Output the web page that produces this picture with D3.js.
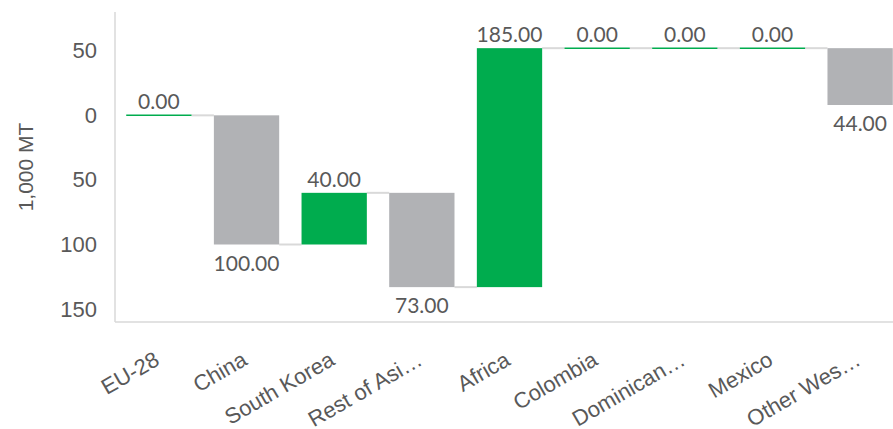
<!DOCTYPE html>
<html>
<head>
<meta charset="utf-8">
<script src="https://cdn.jsdelivr.net/npm/d3@7"></script>
<style>
  body { margin: 0; background: #fff; }
  svg { display: block; }
</style>
</head>
<body>
<div id="chart"></div>
<script>
// chart data
var categories = ["EU-28", "China", "South Korea", "Rest of Asi\u2026", "Africa",
                  "Colombia", "Dominican\u2026", "Mexico", "Other Wes\u2026"];
var changes = [0, -100, 40, -73, 185, 0, 0, 0, -44];
var y_ticks = [50, 0, -50, -100, -150];
var y_title = "1,000 MT";

var draw_chart = function() {
  var width = 893;
  var height = 429;
  var plot_left = 115;
  var plot_right = 904;
  var plot_top = 12;
  var plot_bottom = 322;

  var green = "#00ac4e";
  var grey = "#b1b2b5";
  var light = "#d9d9d9";
  var text_color = "#595959";

  // running totals for the waterfall
  var steps = [];
  var level = 0;
  for (var i = 0; i < changes.length; i++) {
    var start = level;
    level += changes[i];
    steps.push({ name: categories[i], value: changes[i], start: start, end: level });
  }

  var x = d3.scaleBand()
      .domain(categories)
      .range([plot_left, plot_right])
      .paddingInner(0.255)
      .paddingOuter(0.128);

  var y = d3.scaleLinear()
      .domain([-160, 80])
      .range([plot_bottom, plot_top]);

  var svg = d3.select("#chart").append("svg")
      .attr("width", width)
      .attr("height", height);

  // axes
  var y_axis = d3.axisLeft(y)
      .tickValues(y_ticks)
      .tickSize(0)
      .tickPadding(18)
      .tickFormat(function(d) { return Math.abs(d); });

  var gy = svg.append("g")
      .attr("transform", "translate(" + plot_left + ",0)")
      .call(y_axis);
  gy.select(".domain").remove();
  gy.selectAll("text")
      .attr("fill", text_color)
      .style("font-family", "'Liberation Sans', Arial, sans-serif")
      .style("font-size", "22px");

  svg.append("line")
      .attr("x1", plot_left).attr("x2", plot_left)
      .attr("y1", plot_top).attr("y2", plot_bottom)
      .attr("stroke", light).attr("stroke-width", 1.5);

  svg.append("line")
      .attr("x1", plot_left).attr("x2", width)
      .attr("y1", plot_bottom).attr("y2", plot_bottom)
      .attr("stroke", light).attr("stroke-width", 1.5);

  var x_axis = d3.axisBottom(x).tickSize(0).tickPadding(0);
  var gx = svg.append("g")
      .attr("transform", "translate(0," + plot_bottom + ")")
      .call(x_axis);
  gx.select(".domain").remove();
  gx.selectAll("text")
      .attr("fill", text_color)
      .style("font-family", "'Liberation Sans', Arial, sans-serif")
      .style("font-size", "22px")
      .attr("text-anchor", "end")
      .attr("dy", 0)
      .attr("x", 0)
      .attr("y", 0)
      .attr("transform", "translate(2,42) rotate(-30)");

  svg.append("text")
      .attr("transform", "translate(33," + y(-40) + ") rotate(-90)")
      .attr("text-anchor", "middle")
      .attr("fill", text_color)
      .style("font-family", "'Liberation Sans', Arial, sans-serif")
      .style("font-size", "21px")
      .text(y_title);

  // connectors between bars
  for (var i = 0; i < steps.length - 1; i++) {
    svg.append("line")
        .attr("x1", x(steps[i].name) + x.bandwidth())
        .attr("x2", x(steps[i + 1].name))
        .attr("y1", y(steps[i].end))
        .attr("y2", y(steps[i].end))
        .attr("stroke", light)
        .attr("stroke-width", 2);
  }

  // bars
  steps.forEach(function(d) {
    var top = y(Math.max(d.start, d.end));
    var bottom = y(Math.min(d.start, d.end));
    if (d.value === 0) {
      svg.append("line")
          .attr("x1", x(d.name)).attr("x2", x(d.name) + x.bandwidth())
          .attr("y1", top).attr("y2", top)
          .attr("stroke", green).attr("stroke-width", 1.5);
    } else {
      svg.append("rect")
          .attr("x", x(d.name))
          .attr("y", top)
          .attr("width", x.bandwidth())
          .attr("height", bottom - top)
          .attr("fill", d.value > 0 ? green : grey);
    }

    var label_y = d.value >= 0 ? top - 6 : bottom + 26;
    svg.append("text")
        .attr("x", x(d.name) + x.bandwidth() / 2)
        .attr("y", label_y)
        .attr("text-anchor", "middle")
        .attr("fill", text_color)
        .style("font-family", "Lato, 'Open Sans', sans-serif")
        .style("font-size", "21px")
        .text(Math.abs(d.value).toFixed(2));
  });
};

draw_chart();
</script>
</body>
</html>
